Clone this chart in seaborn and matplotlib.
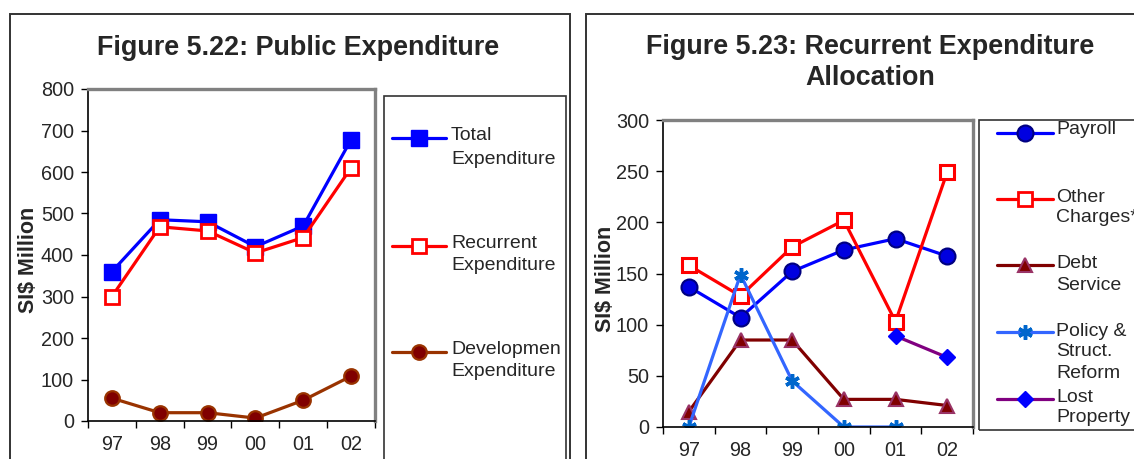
import numpy as np
import pandas as pd
import matplotlib
matplotlib.use("Agg")
import matplotlib.pyplot as plt
from matplotlib.lines import Line2D
from matplotlib.patches import Rectangle
import seaborn as sns

# ---------------- data ----------------
years = ["97", "98", "99", "00", "01", "02"]

total_exp = [360, 485, 480, 420, 470, 678]
recurrent_exp = [300, 468, 458, 405, 442, 610]
development_exp = [55, 20, 20, 7, 50, 108]

payroll = [137, 107, 152, 173, 184, 167]
other_charges = [158, 128, 176, 202, 103, 249]
debt_service = [15, 85, 85, 27, 27, 21]
policy_reform = [0, 149, 45, 0, 0, np.nan]
lost_property = [np.nan, np.nan, np.nan, np.nan, 89, 68]

# ---------------- style ----------------
sns.set_style("white")
plt.rcParams["font.family"] = ["Liberation Sans", "DejaVu Sans"]

W, H = 1134, 459
fig = plt.figure(figsize=(W / 100, H / 100), dpi=100)


def fx(x):
    return x / W


def fy(y):
    return 1 - y / H


def draw_series(ax, values, **kw):
    s = pd.DataFrame({"pos": np.arange(len(years)), "val": values}).dropna()
    sns.lineplot(data=s, x="pos", y="val", ax=ax, **kw)


def style_axes(ax, ymax, ystep):
    ax.set_xlim(-0.5, len(years) - 0.5)
    ax.set_ylim(0, ymax)
    ax.set_yticks(np.arange(0, ymax + 1, ystep))
    ax.set_xticks(np.arange(-0.5, len(years), 1.0))
    ax.set_xticklabels([])
    ax.set_xticks(np.arange(len(years)), minor=True)
    ax.set_xticklabels(years, minor=True)
    ax.tick_params(axis="x", which="major", direction="out", length=5,
                   width=1, color="black", bottom=True)
    ax.tick_params(axis="x", which="minor", length=0, pad=10, labelsize=14.3)
    ax.tick_params(axis="y", direction="out", length=5, width=1,
                   color="black", left=True, pad=5, labelsize=14.3)
    ax.set_xlabel("")
    ax.set_ylabel("")
    for side in ("top", "right"):
        ax.spines[side].set_color("#808080")
        ax.spines[side].set_linewidth(2.4)
    for side in ("left", "bottom"):
        ax.spines[side].set_color("black")
        ax.spines[side].set_linewidth(1.2)
    ax.grid(False)


# ---------------- Figure 5.22 ----------------
ax1 = fig.add_axes([fx(88), fy(421), (375 - 88) / W, (421 - 89) / H])
draw_series(ax1, total_exp, color="#0000FF", linewidth=2.3, marker="s",
            markersize=11, markerfacecolor="#0000FF",
            markeredgecolor="#0000FF", markeredgewidth=1)
draw_series(ax1, recurrent_exp, color="#FF0000", linewidth=2.3, marker="s",
            markersize=10, markerfacecolor="white",
            markeredgecolor="#FF0000", markeredgewidth=2)
draw_series(ax1, development_exp, color="#993300", linewidth=2.3, marker="o",
            markersize=10.5, markerfacecolor="#800000",
            markeredgecolor="#993300", markeredgewidth=1.6)
style_axes(ax1, 800, 100)

# ---------------- Figure 5.23 ----------------
ax2 = fig.add_axes([fx(663), fy(427), (973 - 663) / W, (427 - 120) / H])
draw_series(ax2, payroll, color="#0000FF", linewidth=2.3, marker="o",
            markersize=11.5, markerfacecolor="#0000E0",
            markeredgecolor="#000080", markeredgewidth=1.5)
draw_series(ax2, other_charges, color="#FF0000", linewidth=2.3, marker="s",
            markersize=10.5, markerfacecolor="white",
            markeredgecolor="#FF0000", markeredgewidth=2.2)
draw_series(ax2, debt_service, color="#800000", linewidth=2.3, marker="^",
            markersize=9.5, markerfacecolor="#800000",
            markeredgecolor="#993366", markeredgewidth=1.5)
draw_series(ax2, policy_reform, color="#3366FF", linewidth=2.3,
            marker=(6, 2, 0), markersize=10.5, markerfacecolor="#0066CC",
            markeredgecolor="#0066CC", markeredgewidth=2.5)
draw_series(ax2, lost_property, color="#800080", linewidth=2.3, marker="D",
            markersize=8.5, markerfacecolor="#0000FF",
            markeredgecolor="#0000FF", markeredgewidth=1)
style_axes(ax2, 300, 50)

# ---------------- titles and axis labels ----------------
fig.text(fx(298), fy(48), "Figure 5.22: Public Expenditure", ha="center",
         va="center", fontsize=19.4, fontweight="bold")
fig.text(fx(870), fy(47), "Figure 5.23: Recurrent Expenditure", ha="center",
         va="center", fontsize=19.4, fontweight="bold")
fig.text(fx(870), fy(78), "Allocation", ha="center", va="center",
         fontsize=19.4, fontweight="bold")
fig.text(fx(28), fy(260), "SI$ Million", rotation=90, ha="center",
         va="center", fontsize=15.5, fontweight="bold")
fig.text(fx(605), fy(279), "SI$ Million", rotation=90, ha="center",
         va="center", fontsize=15.5, fontweight="bold")

# ---------------- panel frames ----------------
fig.add_artist(Rectangle((fx(10), fy(480)), fx(570) - fx(10), fy(14) - fy(480),
                         transform=fig.transFigure, fill=False,
                         edgecolor="#333333", linewidth=1.4))
fig.add_artist(Rectangle((fx(586), fy(480)), fx(1160) - fx(586),
                         fy(14) - fy(480), transform=fig.transFigure,
                         fill=False, edgecolor="#333333", linewidth=1.4))

# ---------------- legends ----------------
fig.add_artist(Rectangle((fx(384), fy(480)), fx(566) - fx(384),
                         fy(96) - fy(480), transform=fig.transFigure,
                         fill=False, edgecolor="#333333", linewidth=1.2))
fig.add_artist(Rectangle((fx(979), fy(430)), fx(1160) - fx(979),
                         fy(120) - fy(430), transform=fig.transFigure,
                         fill=False, edgecolor="#333333", linewidth=1.2))


def legend_entry(x0, x1, y, lines, text_x, text_ys, line_kw, marker_kw):
    fig.add_artist(Line2D([fx(x0), fx(x1)], [fy(y), fy(y)],
                          transform=fig.transFigure, **line_kw))
    fig.add_artist(Line2D([fx((x0 + x1) / 2)], [fy(y)], linestyle="none",
                          transform=fig.transFigure, **marker_kw))
    for txt, ty in zip(lines, text_ys):
        fig.text(fx(text_x), fy(ty), txt, ha="left", va="center",
                 fontsize=14)


legend_entry(392, 446, 138, ["Total", "Expenditure"], 451, [135, 160],
             dict(color="#0000FF", linewidth=2.3),
             dict(marker="s", markersize=11, markerfacecolor="#0000FF",
                  markeredgecolor="#0000FF"))
legend_entry(392, 446, 246, ["Recurrent", "Expenditure"], 451, [243, 265],
             dict(color="#FF0000", linewidth=2.3),
             dict(marker="s", markersize=10, markerfacecolor="white",
                  markeredgecolor="#FF0000", markeredgewidth=2))
legend_entry(392, 446, 352, ["Developmen", "Expenditure"], 451, [350, 371],
             dict(color="#993300", linewidth=2.3),
             dict(marker="o", markersize=10.5, markerfacecolor="#800000",
                  markeredgecolor="#993300", markeredgewidth=1.6))

legend_entry(997, 1053, 133, ["Payroll"], 1056, [130],
             dict(color="#0000FF", linewidth=2.3),
             dict(marker="o", markersize=11.5, markerfacecolor="#0000E0",
                  markeredgecolor="#000080", markeredgewidth=1.5))
legend_entry(997, 1053, 199, ["Other", "Charges*"], 1056, [197, 218],
             dict(color="#FF0000", linewidth=2.3),
             dict(marker="s", markersize=10, markerfacecolor="white",
                  markeredgecolor="#FF0000", markeredgewidth=2))
legend_entry(997, 1053, 265, ["Debt", "Service"], 1056, [263, 285],
             dict(color="#800000", linewidth=2.3),
             dict(marker="^", markersize=9.5, markerfacecolor="#800000",
                  markeredgecolor="#993366", markeredgewidth=1.5))
legend_entry(997, 1053, 332, ["Policy &", "Struct.", "Reform"], 1056,
             [331, 352, 373],
             dict(color="#3366FF", linewidth=2.3),
             dict(marker=(6, 2, 0), markersize=10.5, markerfacecolor="#0066CC",
                  markeredgecolor="#0066CC", markeredgewidth=2.5))
legend_entry(997, 1053, 399, ["Lost", "Property"], 1056, [397, 418],
             dict(color="#800080", linewidth=2.3),
             dict(marker="D", markersize=8.5, markerfacecolor="#0000FF",
                  markeredgecolor="#0000FF"))

fig.savefig("out.png", dpi=100)
